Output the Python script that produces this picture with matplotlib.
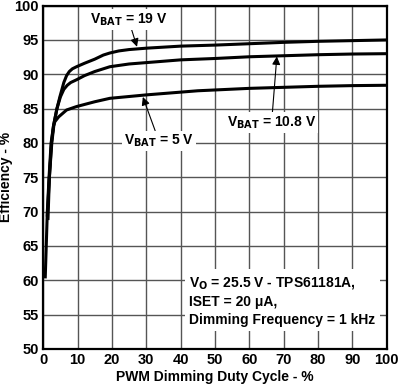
import matplotlib.pyplot as plt
import numpy as np

plt.rcParams['font.family'] = ['Liberation Sans', 'DejaVu Sans']
plt.rcParams['font.weight'] = 'bold'

# duty cycle (%) and efficiency (%)
duty_19 = [0.6, 1.2, 1.7, 2.3, 3.0, 3.4, 4.0, 4.9, 6.0, 6.8, 7.6, 8.5, 9.7, 12, 15, 17.5, 19.4, 22, 25, 30, 40, 50, 60, 70, 80, 90, 100]
eff_19 = [60.5, 70, 75, 80, 82.5, 83.5, 85.0, 86.8, 88.8, 89.8, 90.4, 90.8, 91.1, 91.6, 92.2, 92.8, 93.1, 93.4, 93.6, 93.8, 94.1, 94.25, 94.45, 94.65, 94.8, 94.9, 95.0]

duty_108 = [1.4, 1.8, 2.5, 3.2, 4.0, 5.0, 6.0, 7.0, 8.0, 9.7, 12, 15, 19.4, 25, 30, 40, 50, 60, 70, 80, 90, 100]
eff_108 = [69, 75, 80, 83, 85, 86.7, 87.8, 88.4, 88.8, 89.2, 89.8, 90.4, 91.1, 91.5, 91.7, 92.1, 92.3, 92.55, 92.7, 92.85, 92.95, 93.0]

duty_5 = [1.2, 1.8, 2.4, 3.0, 3.4, 4.5, 6.8, 9.7, 15, 19.4, 30, 45, 60, 70, 80, 90, 100]
eff_5 = [69.5, 75, 80, 82.5, 83.1, 83.8, 84.8, 85.3, 86.0, 86.5, 87.0, 87.6, 87.95, 88.1, 88.25, 88.35, 88.4]

fig = plt.figure(figsize=(4.0, 3.92), dpi=100)
ax = fig.add_axes([0.108, 0.1097, 0.859, 0.876])

for xs, ys in [(duty_19, eff_19), (duty_108, eff_108), (duty_5, eff_5)]:
    ax.plot(xs, ys, color='black', lw=2.2, zorder=3)

ax.set_xlim(0, 100)
ax.set_ylim(50, 100)
ax.set_xticks(np.arange(0, 101, 10))
ax.set_yticks(np.arange(50, 101, 5))
ax.grid(True, color='#555555', lw=1.0, zorder=1)
ax.tick_params(length=0, labelsize=10.5, pad=3)
for sp in ax.spines.values():
    sp.set_linewidth(1.6)
ax.set_xlabel('PWM Dimming Duty Cycle - %', fontsize=10, fontweight='bold', labelpad=2)
ax.set_ylabel('Efficiency - %', fontsize=10, fontweight='bold', labelpad=1)

box = dict(facecolor='white', edgecolor='none', pad=1.5)
arrow = dict(arrowstyle='-|>', color='black', lw=0.8, mutation_scale=12, shrinkA=0, shrinkB=0)

ax.annotate(r'V$_{\mathbf{BAT}}$ = 19 V', xy=(27.3, 94.0), xytext=(13.5, 98.0),
            fontsize=10, fontweight='bold', va='center', ha='left', bbox=box,
            arrowprops=arrow, zorder=4)
ax.annotate(r'V$_{\mathbf{BAT}}$ = 5 V', xy=(29.0, 86.7), xytext=(23.5, 80.3),
            fontsize=10, fontweight='bold', va='center', ha='left', bbox=box,
            arrowprops=arrow, zorder=4)
ax.annotate(r'V$_{\mathbf{BAT}}$ = 10.8 V', xy=(68.0, 92.6), xytext=(53.5, 83.0),
            fontsize=10, fontweight='bold', va='center', ha='left', bbox=box,
            arrowprops=arrow, zorder=4)

ax.text(42.5, 57.0,
        'V$_{\\mathbf{O}}$ = 25.5 V - TPS61181A,\nISET = 20 \u03bcA,\nDimming Frequency = 1 kHz',
        fontsize=10, fontweight='bold', va='center', ha='left', linespacing=1.4,
        bbox=dict(facecolor='white', edgecolor='none', pad=3), zorder=4)

plt.savefig('out.png', dpi=100)
